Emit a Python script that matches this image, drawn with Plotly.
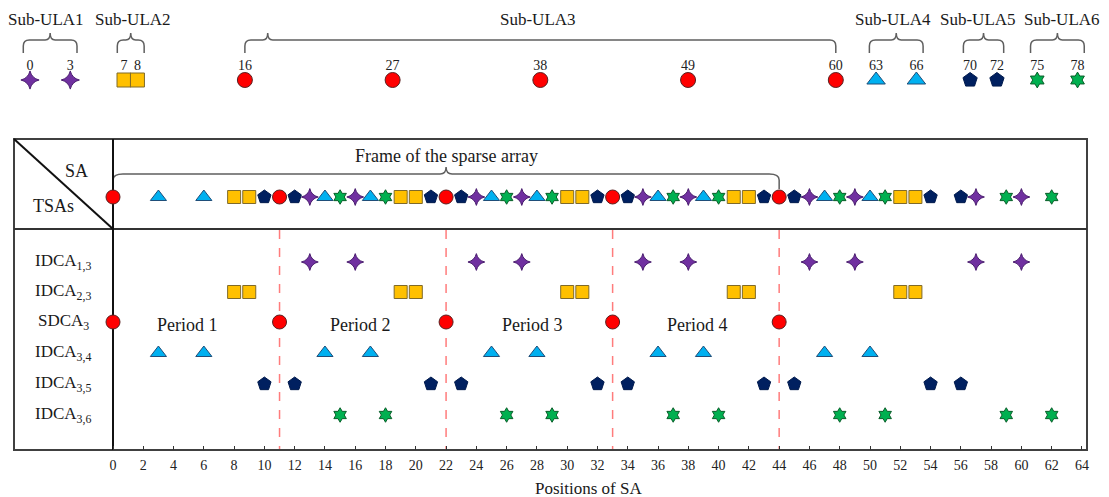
import plotly.graph_objects as go

# ---------------- data ----------------
sub_ula_names = ["Sub-ULA1", "Sub-ULA2", "Sub-ULA3", "Sub-ULA4", "Sub-ULA5", "Sub-ULA6"]
sub_ula1 = [0, 3]
sub_ula2 = [7, 8]
sub_ula3 = [16, 27, 38, 49, 60]
sub_ula4 = [63, 66]
sub_ula5 = [70, 72]
sub_ula6 = [75, 78]

row_names = ["IDCA<sub>1,3</sub>", "IDCA<sub>2,3</sub>", "SDCA<sub>3</sub>",
             "IDCA<sub>3,4</sub>", "IDCA<sub>3,5</sub>", "IDCA<sub>3,6</sub>"]
idca_1_3 = [13, 16, 24, 27, 35, 38, 46, 49, 57, 60]
idca_2_3 = [8, 9, 19, 20, 30, 31, 41, 42, 52, 53]
sdca_3 = [0, 11, 22, 33, 44]
idca_3_4 = [3, 6, 14, 17, 25, 28, 36, 39, 47, 50]
idca_3_5 = [10, 12, 21, 23, 32, 34, 43, 45, 54, 56]
idca_3_6 = [15, 18, 26, 29, 37, 40, 48, 51, 59, 62]

period_names = ["Period 1", "Period 2", "Period 3", "Period 4"]
period_label_pos = [4.9, 16.35, 27.7, 38.6]
frame_span = [0, 44]
x_ticks = list(range(0, 65, 2))

# ---------------- layout constants (pixels) ----------------
W, H = 1109, 497
FONT = "Liberation Serif"
X0_PX, UNIT_PX = 113, 15.14          # bottom axis
X0T_PX, UNITT_PX = 30, 13.43         # top axis

TABLE_L, TABLE_R = 14, 1087
TABLE_T, HEAD_B, TABLE_B = 139, 229, 450
TSA_Y = 197
ROW_Y = [262, 292, 322, 353, 384, 415]
TOP_LABEL_Y = 19
TOP_LABEL_PX = [46, 133, 538, 893, 978, 1062]
TOP_NUM_Y = 66
TOP_MARK_Y = 80

STY = {
    "purple": dict(symbol="star-diamond", color="#7030A0", line=dict(color="#4B1F6F", width=1)),
    "yellow": dict(symbol="square", color="#FFC000", line=dict(color="#7F6A2A", width=1)),
    "red":    dict(symbol="circle", color="#FF0000", line=dict(color="#5A2020", width=1)),
    "blue":   dict(symbol="triangle-up", color="#00B0F0", line=dict(color="#1F4E79", width=1)),
    "navy":   dict(symbol="pentagon", color="#002060", line=dict(color="#001A4D", width=1)),
    "green":  dict(symbol="hexagram", color="#00B050", line=dict(color="#0B5E2A", width=1)),
}
SIZE_B = {"purple": 12, "yellow": 13, "red": 14, "blue": 14, "navy": 14, "green": 11}
SIZE_T = {"purple": 13, "yellow": 14, "red": 15, "blue": 16, "navy": 15, "green": 12}
row_styles = ["purple", "yellow", "red", "blue", "navy", "green"]
top_groups = [sub_ula1, sub_ula2, sub_ula3, sub_ula4, sub_ula5, sub_ula6]

rows = [idca_1_3, idca_2_3, sdca_3, idca_3_4, idca_3_5, idca_3_6]

fig = go.Figure()

def marker(key, size):
    s = STY[key]
    return dict(symbol=s["symbol"], color=s["color"], line=s["line"], size=size)

# bottom rows + TSAs row
for vals, y, key in zip(rows, ROW_Y, row_styles):
    fig.add_trace(go.Scatter(x=vals, y=[y] * len(vals), mode="markers",
                             marker=marker(key, SIZE_B[key]), hoverinfo="skip",
                             showlegend=False, cliponaxis=False, xaxis="x", yaxis="y"))
for vals, key in zip(rows, row_styles):
    fig.add_trace(go.Scatter(x=vals, y=[TSA_Y] * len(vals), mode="markers",
                             marker=marker(key, SIZE_B[key]), hoverinfo="skip",
                             showlegend=False, cliponaxis=False, xaxis="x", yaxis="y"))

# top sub-ULAs
for vals, key in zip(top_groups, row_styles):
    fig.add_trace(go.Scatter(x=vals, y=[TOP_MARK_Y] * len(vals), mode="markers",
                             marker=marker(key, SIZE_T[key]), hoverinfo="skip",
                             showlegend=False, cliponaxis=False, xaxis="x2", yaxis="y"))
    fig.add_trace(go.Scatter(x=vals, y=[TOP_NUM_Y] * len(vals), mode="text",
                             text=[str(v) for v in vals],
                             textfont=dict(family=FONT, size=14, color="#222"),
                             hoverinfo="skip", showlegend=False, cliponaxis=False,
                             xaxis="x2", yaxis="y"))

shapes = []
annotations = []

def txt(x, y, text, size, xref="paper"):
    return dict(x=x, y=y, xref=xref, yref="y", text=text, showarrow=False,
                xanchor="center", yanchor="middle",
                font=dict(family=FONT, size=size, color="#1a1a1a"))

def brace(xl, xr, xt, y_end, y_mid, y_tip, r, rt, xref):
    p = (f"M {xl},{y_end} L {xl},{y_mid + 6} Q {xl},{y_mid} {xl + r},{y_mid} "
         f"L {xt - rt},{y_mid} Q {xt},{y_mid} {xt},{y_tip} "
         f"Q {xt},{y_mid} {xt + rt},{y_mid} L {xr - r},{y_mid} "
         f"Q {xr},{y_mid} {xr},{y_mid + 6} L {xr},{y_end}")
    return dict(type="path", path=p, xref=xref, yref="y",
                line=dict(color="#5F5F5F", width=1.5), layer="below")

# top braces + labels
rt_u = 6 / UNITT_PX
for name, vals, lpx in zip(sub_ula_names, top_groups, TOP_LABEL_PX):
    if len(vals) > 2:
        xl, xr, xt = vals[0], vals[-1], vals[0] + 1.7
    else:
        xl, xr = vals[0] - 0.5, vals[-1] + 0.5
        xt = (vals[0] + vals[-1]) / 2
    shapes.append(brace(xl, xr, xt, 53, 40, 33, rt_u, 5 / UNITT_PX, "x2"))
    annotations.append(txt(lpx / W, TOP_LABEL_Y, name, 17))

# frame brace
shapes.append(brace(frame_span[0], frame_span[1], (frame_span[0] + frame_span[1]) / 2,
                    189, 174, 167, 10 / UNIT_PX, 6 / UNIT_PX, "x"))
annotations.append(txt((frame_span[0] + frame_span[1]) / 2, 156,
                       "Frame of the sparse array", 18, xref="x"))

# table
shapes += [
    dict(type="rect", xref="paper", yref="y", x0=TABLE_L / W, x1=TABLE_R / W,
         y0=TABLE_T, y1=TABLE_B, line=dict(color="#404040", width=2), layer="below"),
    dict(type="line", xref="paper", yref="y", x0=TABLE_L / W, x1=TABLE_R / W,
         y0=HEAD_B, y1=HEAD_B, line=dict(color="#333333", width=2), layer="below"),
    dict(type="line", xref="x", yref="y", x0=0, x1=0, y0=TABLE_T, y1=TABLE_B,
         line=dict(color="#111", width=2), layer="below"),
    dict(type="line", xref="paper", yref="y", x0=TABLE_L / W, x1=X0_PX / W,
         y0=TABLE_T, y1=HEAD_B, line=dict(color="#111", width=2), layer="below"),
]
for b in sdca_3[1:]:
    shapes.append(dict(type="line", xref="x", yref="y", x0=b, x1=b, y0=HEAD_B + 1, y1=TABLE_B - 1,
                       line=dict(color="#FF7C7C", width=1.5, dash="dash"), layer="below"))

# text in table
annotations.append(txt(76 / W, 171, "SA", 18))
annotations.append(txt(53 / W, 206, "TSAs", 18))
for name, y in zip(row_names, ROW_Y):
    annotations.append(txt(63 / W, y, name, 17))
for name, xp in zip(period_names, period_label_pos):
    annotations.append(txt(xp, 325, name, 18, xref="x"))
annotations.append(txt(31.4, 488, "Positions of SA", 17, xref="x"))

fig.update_layout(
    width=W, height=H, margin=dict(l=0, r=0, t=0, b=0, pad=0),
    paper_bgcolor="white", plot_bgcolor="white",
    shapes=shapes, annotations=annotations,
    xaxis=dict(range=[-X0_PX / UNIT_PX, (W - X0_PX) / UNIT_PX], domain=[0, 1],
               anchor="free", position=1 - TABLE_B / H,
               tickvals=x_ticks, ticktext=[str(t) for t in x_ticks],
               ticks="inside", ticklen=4, tickwidth=1, tickcolor="#333",
               showline=False, showgrid=False, zeroline=False,
               tickfont=dict(family=FONT, size=14, color="#222"), ticklabelstandoff=5),
    xaxis2=dict(range=[-X0T_PX / UNITT_PX, (W - X0T_PX) / UNITT_PX], overlaying="x",
                visible=False, anchor="y"),
    yaxis=dict(range=[H, 0], domain=[0, 1], visible=False),
    showlegend=False,
)

fig.write_html("out.html", config={"displayModeBar": False},
               post_script="document.body.style.margin='0';document.body.style.overflow='hidden';")
